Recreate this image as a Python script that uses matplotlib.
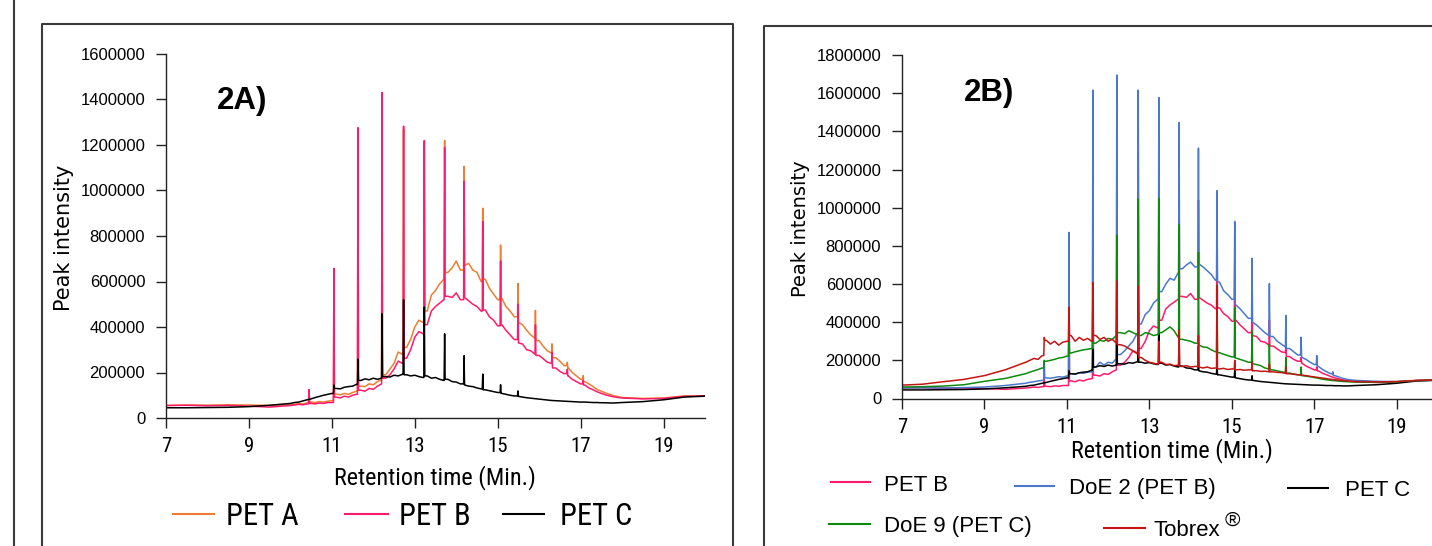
import numpy as np
import matplotlib
matplotlib.use("Agg")
import matplotlib.pyplot as plt
from matplotlib.lines import Line2D

# ---------------- data (intensities in thousands) ----------------
T_HEAD = [7.0, 7.5, 8.0, 8.5, 9.0, 9.5]
T_TAIL = [18.5, 19.0, 19.5, 20.0]
T_MID = np.round(np.arange(10.0, 18.001, 0.1), 1)

# oligomer peak retention times (min)
PEAK_T = [10.45, 11.05, 11.63, 12.21, 12.73, 13.23, 13.72, 14.19,
          14.64, 15.07, 15.49, 15.91, 16.31, 16.68, 17.06, 17.45]

# PET A
petA_head = [55, 57, 56, 58, 57, 55]
petA_mid = [58, 60, 64, 62, 66, 70, 68, 72, 70, 74,
            76, 105, 102, 108, 104, 112, 118, 140, 138, 150,
            146, 160, 168, 190, 215, 240, 290, 280, 310, 345,
            400, 430, 420, 470, 540, 560, 590, 610, 640, 660,
            690, 650, 670, 680, 650, 640, 600, 610, 570, 545,
            520, 525, 490, 470, 445, 420, 410, 385, 365, 350,
            340, 315, 295, 285, 265, 250, 230, 220, 200, 185,
            170, 160, 150, 138, 125, 118, 110, 104, 98, 94,
            90]
petA_tail = [86, 88, 97, 98]
petA_peaks = [120, 640, 1260, 1410, 1270, 1215, 1220, 1106,
              922, 760, 591, 473, 326, 245, 186, None]

# PET B
petB_head = [55, 56, 54, 55, 52, 48]
petB_mid = [55, 57, 60, 58, 62, 64, 62, 66, 64, 68,
            68, 92, 88, 96, 92, 100, 104, 122, 118, 130,
            126, 140, 150, 175, 190, 215, 250, 240, 262, 300,
            355, 380, 370, 410, 470, 490, 505, 520, 535, 530,
            550, 520, 530, 515, 500, 490, 470, 475, 445, 430,
            405, 410, 385, 365, 345, 330, 325, 300, 295, 280,
            275, 260, 245, 240, 220, 205, 195, 185, 170, 160,
            150, 145, 132, 124, 115, 108, 102, 97, 93, 90,
            88]
petB_tail = [84, 86, 95, 97]
petB_peaks = [125, 658, 1276, 1431, 1283, 1220, 1190, 1040,
              863, 690, 500, 410, 290, 215, 165, None]

# PET C
petC_head = [45, 45, 46, 47, 50, 56]
petC_mid = [64, 68, 70, 75, 80, 84, 90, 95, 100, 104,
            108, 130, 128, 135, 138, 140, 148, 165, 172, 168,
            175, 170, 175, 182, 180, 188, 185, 192, 190, 185,
            188, 182, 178, 185, 175, 178, 170, 165, 170, 160,
            158, 150, 145, 140, 138, 132, 128, 124, 120, 116,
            112, 108, 104, 100, 97, 95, 92, 89, 87, 85,
            83, 81, 79, 77, 76, 75, 74, 73, 72, 71,
            70, 70, 69, 68, 68, 67, 67, 66, 66, 67,
            68]
petC_tail = [72, 80, 92, 96]
petC_peaks = [None, 145, 259, 458, 520, 488, 370, 274,
              193, 146, 119, None, None, None, None, None]

# DoE 2 (PET B)
doe2_head = [55, 56, 55, 57, 60, 68]
doe2_mid = [80, 85, 88, 92, 95, 108, 106, 110, 114, 112,
            118, 130, 128, 135, 132, 138, 140, 165, 190, 175,
            190, 185, 210, 230, 250, 275, 300, 340, 390, 440,
            460, 500, 520, 560, 600, 630, 620, 660, 680, 700,
            715, 690, 705, 690, 670, 650, 620, 610, 565, 545,
            520, 490, 470, 445, 420, 400, 385, 365, 345, 330,
            325, 300, 285, 270, 262, 245, 228, 215, 205, 190,
            178, 168, 152, 140, 130, 120, 112, 105, 100, 97,
            95]
doe2_tail = [90, 88, 94, 96]
doe2_peaks = [195, 870, 1616, 1695, 1616, 1577, 1446, 1312,
              1089, 928, 735, 602, 435, 321, 225, 140]

# DoE 9 (PET C)
doe9_head = [60, 62, 65, 72, 90, 105]
doe9_mid = [130, 138, 145, 152, 160, 195, 200, 205, 212, 215,
            222, 238, 245, 250, 255, 258, 262, 290, 305, 300,
            315, 310, 330, 345, 340, 355, 345, 335, 330, 345,
            340, 330, 335, 345, 360, 375, 355, 320, 310, 305,
            300, 290, 280, 270, 268, 255, 245, 240, 232, 225,
            218, 212, 205, 198, 190, 182, 178, 172, 160, 155,
            150, 145, 140, 136, 133, 128, 124, 120, 117, 114,
            110, 106, 101, 98, 95, 93, 91, 89, 88, 87,
            86]
doe9_tail = [85, 88, 94, 96]
doe9_peaks = [200, 400, 538, 855, 1045, 1050, 910, 765,
              595, 475, 355, 285, 215, 165, None, None]

# Tobrex
tob_head = [70, 75, 88, 100, 120, 150]
tob_mid = [190, 200, 210, 205, 225, 305, 285, 300, 280, 295,
           300, 330, 300, 320, 305, 315, 300, 330, 310, 320,
           300, 310, 290, 282, 275, 262, 250, 235, 215, 200,
           190, 185, 180, 190, 178, 180, 172, 175, 168, 172,
           165, 168, 165, 160, 165, 158, 160, 155, 158, 152,
           155, 150, 152, 148, 150, 145, 146, 142, 143, 140,
           140, 137, 136, 132, 130, 127, 125, 122, 120, 116,
           113, 110, 107, 104, 101, 98, 96, 94, 92, 90,
           89]
tob_tail = [87, 89, 95, 97]
tob_peaks = [320, 479, 607, 616, 589, 300, 360, 330,
             590, 200, 190, 180, 165, None, None, None]

X_TICKS = [7, 9, 11, 13, 15, 17, 19]
YT_LEFT = list(range(0, 1600001, 200000))
YT_RIGHT = list(range(0, 1800001, 200000))

C_A = "#ED7D31"
C_B = "#FF1A6C"
C_C = "#000000"
C_D2 = "#4A78CC"
C_D9 = "#0E8A0E"
C_TOB = "#C41414"


def trace(head, mid, tail, peaks):
    t_grid = np.array(T_HEAD + list(T_MID) + T_TAIL)
    env = np.array(head + mid + tail, dtype=float)
    assert len(t_grid) == len(env)
    ts = list(t_grid)
    ys = list(env)
    for tp, h in zip(PEAK_T, peaks):
        if h is None:
            continue
        il = int(np.searchsorted(t_grid, tp)) - 1
        ts += [tp - 0.012, tp, tp + 0.012]
        ys += [env[il], h, env[il + 1]]
    order = np.argsort(ts, kind="stable")
    return np.array(ts)[order], np.array(ys)[order] * 1000.0


W, H = 1432, 546
fig = plt.figure(figsize=(W / 100, H / 100), dpi=100)


def fx(px):
    return px / W


def fy(py):
    return 1 - py / H


NARROW = ["Roboto Condensed", "DejaVu Sans"]
REG = ["Liberation Sans", "DejaVu Sans"]

axL = fig.add_axes([fx(166), fy(418), (705 - 166) / W, (418 - 54) / H])
axR = fig.add_axes([fx(902), fy(398.5), (1438 - 902) / W, (398.5 - 55) / H])

for ax, yt in ((axL, YT_LEFT), (axR, YT_RIGHT)):
    ax.set_xlim(7, 20)
    ax.set_ylim(0, yt[-1])
    for s in ("top", "right"):
        ax.spines[s].set_visible(False)
    for s in ("left", "bottom"):
        ax.spines[s].set_linewidth(1.0)
        ax.spines[s].set_color("#222222")
    ax.set_xticks(X_TICKS)
    ax.set_xticklabels([str(v) for v in X_TICKS], family=NARROW, fontsize=15)
    ax.set_yticks(yt)
    ax.set_yticklabels([str(v) for v in yt], family=REG, fontsize=12)
    ax.tick_params(axis="both", direction="out", length=7, width=1.0, color="#222222")
    ax.tick_params(axis="y", pad=8)
    ax.tick_params(axis="x", pad=7)
    ax.patch.set_alpha(0)

lw = 1.1
# left panel
for (h, m, t, p), c in (((petA_head, petA_mid, petA_tail, petA_peaks), C_A),
                         ((petB_head, petB_mid, petB_tail, petB_peaks), C_B),
                         ((petC_head, petC_mid, petC_tail, petC_peaks), C_C)):
    x, y = trace(h, m, t, p)
    axL.plot(x, y, color=c, lw=lw)

# right panel
for (h, m, t, p), c in (((petB_head, petB_mid, petB_tail, petB_peaks), C_B),
                         ((doe2_head, doe2_mid, doe2_tail, doe2_peaks), C_D2),
                         ((petC_head, petC_mid, petC_tail, petC_peaks), C_C),
                         ((doe9_head, doe9_mid, doe9_tail, doe9_peaks), C_D9),
                         ((tob_head, tob_mid, tob_tail, tob_peaks), C_TOB)):
    x, y = trace(h, m, t, p)
    axR.plot(x, y, color=c, lw=lw)

# axis titles
fig.text(fx(64), fy(238), "Peak intensity", rotation=90, ha="center", va="center",
         family=["DejaVu Sans"], fontsize=15)
fig.text(fx(800), fy(229), "Peak intensity", rotation=90, ha="center", va="center",
         family=["DejaVu Sans"], fontsize=14)
fig.text(fx(435), fy(478), "Retention time (Min.)", ha="center", va="center",
         family=NARROW, fontsize=17.5)
fig.text(fx(1172), fy(451), "Retention time (Min.)", ha="center", va="center",
         family=NARROW, fontsize=17.5)

# panel tags
fig.text(fx(217), fy(108.6), "2A)", ha="left", va="baseline", family=REG,
         fontweight="bold", fontsize=22.5)
fig.text(fx(964), fy(101), "2B)", ha="left", va="baseline", family=REG,
         fontweight="bold", fontsize=22.5)

# frames
fc = "#3a3a3a"
fig.add_artist(Line2D([fx(13.5), fx(13.5)], [0, 1], color=fc, lw=1.5))
fig.add_artist(Line2D([fx(42), fx(42), fx(733), fx(733)], [0, fy(24), fy(24), 0],
                      color=fc, lw=1.5))
fig.add_artist(Line2D([fx(764), fx(764), 1.0], [0, fy(26), fy(26)], color=fc, lw=1.5))


# legends
def leg_item(x0, x1, yline, tx, ybase, label, color, fam, size):
    fig.add_artist(Line2D([fx(x0), fx(x1)], [fy(yline), fy(yline)], color=color, lw=1.5))
    fig.text(fx(tx), fy(ybase), label, ha="left", va="baseline", family=fam, fontsize=size)


leg_item(173, 214, 513.5, 226.5, 525, "PET A", C_A, NARROW, 22)
leg_item(345, 388, 513.5, 399, 525, "PET B", C_B, NARROW, 22)
leg_item(503, 544, 513.5, 560, 525, "PET C", C_C, NARROW, 22)

leg_item(831, 870, 482, 884, 491, "PET B", C_B, REG, 16)
leg_item(1015, 1054, 485.5, 1069, 494, "DoE 2 (PET B)", C_D2, REG, 16)
leg_item(1288, 1328, 487.5, 1345, 495.5, "PET C", C_C, REG, 16)
leg_item(829, 870, 524, 884, 532, "DoE 9 (PET C)", C_D9, REG, 16)
leg_item(1104, 1145, 527.5, 1154, 536, "Tobrex", C_TOB, REG, 16)
fig.text(fx(1225), fy(526), "®", ha="left", va="baseline", family=REG, fontsize=15)

fig.savefig("out.png", dpi=100)
